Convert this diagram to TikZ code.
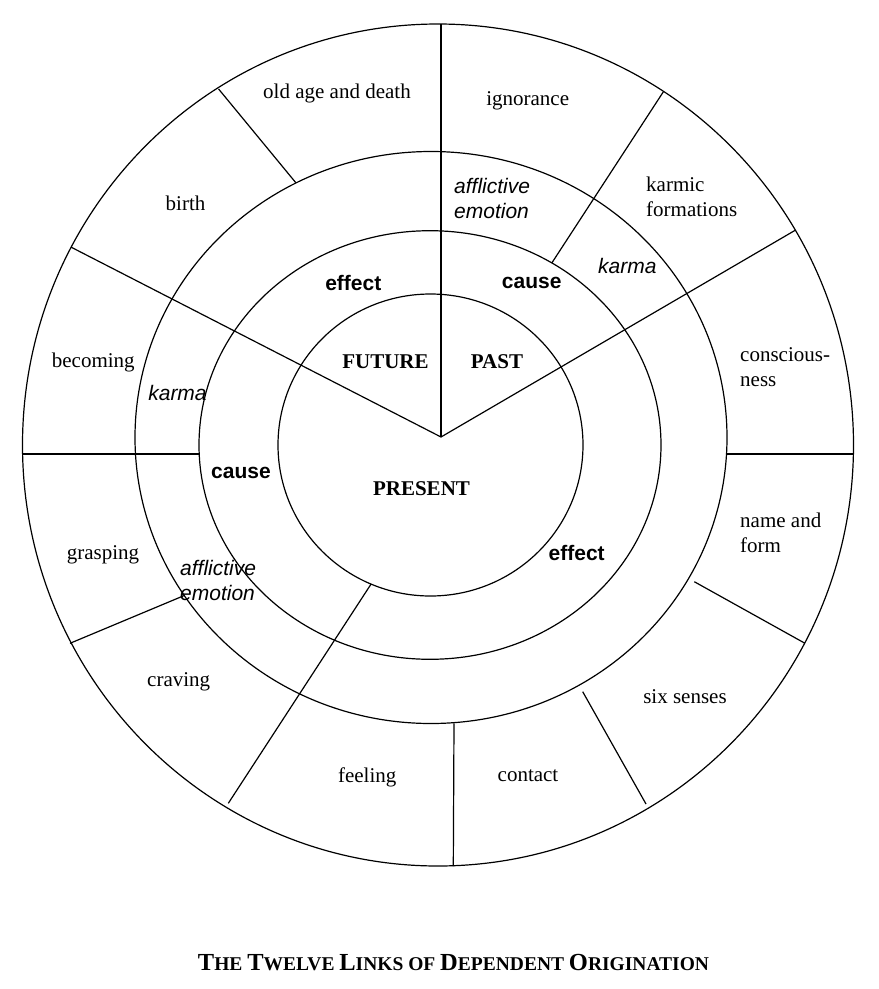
\documentclass[tikz,border=0pt]{standalone}
\usepackage{fontspec}
\setmainfont{Liberation Serif}
\setsansfont{Liberation Sans}
\newcommand\tbigcap{\fontsize{24.5}{28}\selectfont}
\newcommand\tsmlcap{\fontsize{19.5}{28}\selectfont}
\tikzset{
  ring/.style={line width=1.2pt, draw=black},
  spoke/.style={line width=1.2pt, draw=black},
  link/.style={font=\fontsize{21}{25}\selectfont, align=left, inner sep=0pt},
  phase/.style={font=\fontsize{21}{25}\selectfont\bfseries, inner sep=0pt},
  aspect/.style={font=\sffamily\itshape\fontsize{21}{25}\selectfont, align=left, inner sep=0pt},
  role/.style={font=\sffamily\bfseries\fontsize{21}{25}\selectfont, inner sep=0pt},
  caption/.style={font=\bfseries, inner sep=0pt, anchor=base},
}
\begin{document}
\begin{tikzpicture}[x=1pt,y=-1pt]
\useasboundingbox (0,0) rectangle (879,989);
\fill[white] (0,0) rectangle (879,989);

% rings
\draw[ring] (438,445) ellipse [x radius=415.5, y radius=421];
\draw[ring] (431,437.5) ellipse [x radius=296, y radius=286];
\draw[ring] (430,445) ellipse [x radius=231, y radius=214.3];
\draw[ring] (430.5,445) ellipse [x radius=152.5, y radius=151];

% named points
\coordinate (apex) at (441,437);
\coordinate (topend) at (441,24);
\coordinate (vl) at (71.2,247.2);
\coordinate (vr) at (795.3,230.2);
\coordinate (d1a) at (218.6,89);    \coordinate (d1b) at (295.8,182.7);
\coordinate (d2a) at (663.6,91.4);  \coordinate (d2b) at (551.8,263);
\coordinate (hla) at (22.6,454);    \coordinate (hlb) at (199.2,454);
\coordinate (hra) at (726.5,454);   \coordinate (hrb) at (853.4,454);
\coordinate (d3a) at (70,643.3);    \coordinate (d3b) at (184.3,595.5);
\coordinate (d4a) at (228.3,803.3); \coordinate (d4b) at (371.1,584);
\coordinate (d5a) at (453.3,866);   \coordinate (d5b) at (454,723.3);
\coordinate (d6a) at (646,804);     \coordinate (d6b) at (582.7,691.7);
\coordinate (d7a) at (694.3,581.7); \coordinate (d7b) at (805,643.3);

% spokes
\draw[spoke] (topend) -- (apex);
\draw[spoke] (vl) -- (apex) -- (vr);
\draw[spoke] (d1a) -- (d1b);
\draw[spoke] (d2a) -- (d2b);
\draw[spoke] (hla) -- (hlb);
\draw[spoke] (hra) -- (hrb);
\draw[spoke] (d3a) -- (d3b);
\draw[spoke] (d4a) -- (d4b);
\draw[spoke] (d5a) -- (d5b);
\draw[spoke] (d6a) -- (d6b);
\draw[spoke] (d7a) -- (d7b);

% twelve links
\node[link] (oldage) at (337,93.5) {old age and death};
\node[link] (ignorance) at (527.7,101) {ignorance};
\node[link] (birth) at (185.5,203.5) {birth};
\node[link, anchor=west] (karmic) at (646,197) {karmic\\formations};
\node[link] (becoming) at (93.3,362) {becoming};
\node[link, anchor=west] (consc) at (740,367) {conscious-\\ness};
\node[link] (grasping) at (103,555) {grasping};
\node[link, anchor=west] (nameform) at (740,533) {name and\\form};
\node[link] (craving) at (178.7,681.5) {craving};
\node[link] (sixsenses) at (685,696.5) {six senses};
\node[link] (feeling) at (367.2,777) {feeling};
\node[link] (contact) at (528,776) {contact};

% middle ring
\node[aspect, anchor=west] (afftop) at (454,198) {afflictive\\emotion};
\node[aspect] (karmaR) at (627.3,265.7) {karma};
\node[aspect] (karmaL) at (177.5,393) {karma};
\node[aspect, anchor=west] (affleft) at (180,580.5) {afflictive\\emotion};

% cause / effect ring
\node[role] (effecttop) at (353.3,282.7) {effect};
\node[role] (causetop) at (531.7,282.7) {cause};
\node[role] (causeleft) at (241,473.3) {cause};
\node[role] (effectright) at (576.7,553) {effect};

% centre
\node[phase] (future) at (385.5,362) {FUTURE};
\node[phase] (past) at (497,362) {PAST};
\node[phase] (present) at (421.5,489) {PRESENT};

% caption
\node[caption] (title) at (453.5,970) {\tbigcap T\tsmlcap HE \tbigcap T\tsmlcap WELVE \tbigcap L\tsmlcap INKS OF \tbigcap D\tsmlcap EPENDENT \tbigcap O\tsmlcap RIGINATION};
\end{tikzpicture}
\end{document}
